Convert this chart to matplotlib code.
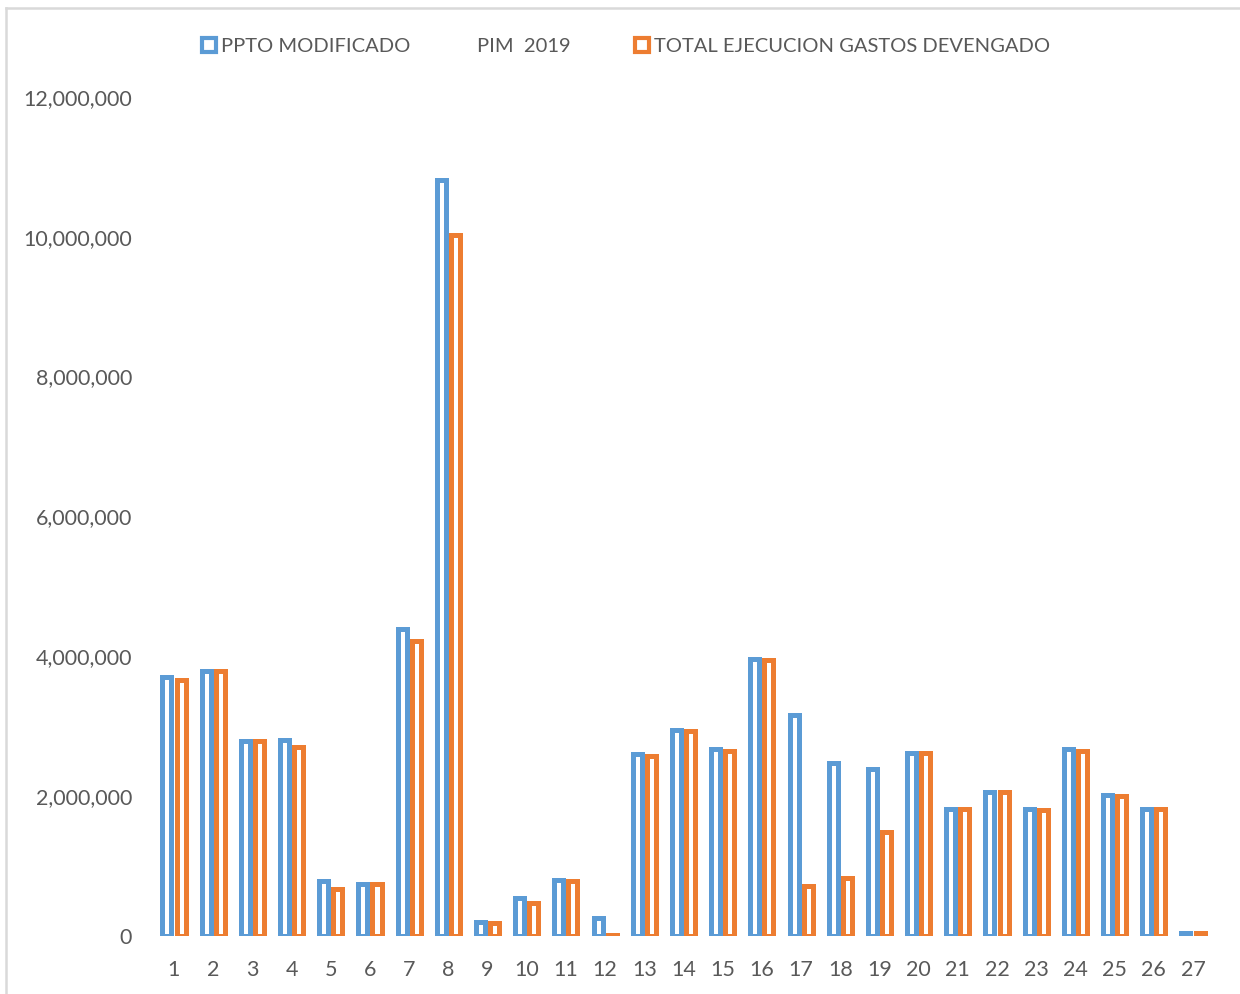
import numpy as np
import matplotlib.pyplot as plt
from matplotlib.patches import Rectangle
from matplotlib.lines import Line2D
from matplotlib.ticker import FuncFormatter

# categorias 1..27
categorias = [str(i) for i in range(1, 28)]

# PPTO MODIFICADO (PIM 2019)
pim = [3700000, 3790000, 2790000, 2800000, 785000, 740000, 4390000, 10810000,
       200000, 540000, 800000, 260000, 2600000, 2950000, 2670000, 3960000,
       3160000, 2470000, 2390000, 2620000, 1820000, 2060000, 1820000, 2670000,
       2020000, 1820000, 40000]

# TOTAL EJECUCION GASTOS DEVENGADO
devengado = [3660000, 3790000, 2790000, 2700000, 670000, 740000, 4220000, 10030000,
             180000, 470000, 785000, 20000, 2570000, 2930000, 2650000, 3950000,
             710000, 830000, 1490000, 2620000, 1820000, 2060000, 1800000, 2650000,
             2000000, 1820000, 40000]

azul = "#5B9BD5"
naranja = "#ED7D31"
gris = "#595959"

plt.rcParams['font.family'] = ['Lato', 'DejaVu Sans']

fig = plt.figure(figsize=(12.4, 9.94), dpi=100)
ax = fig.add_axes([0.1245, 0.0584, 0.8534, 0.8441])

x = np.arange(1, len(categorias) + 1)
ancho = 0.23
desp = 0.18
ax.bar(x - desp, pim, width=ancho, facecolor="white", edgecolor=azul, linewidth=3.6)
ax.bar(x + desp, devengado, width=ancho, facecolor="white", edgecolor=naranja, linewidth=3.6)

ax.set_xlim(0.5, 27.5)
ax.set_ylim(0, 12000000)
ax.set_xticks(x)
ax.set_xticklabels(categorias)
ax.set_yticks(np.arange(0, 12000001, 2000000))
ax.yaxis.set_major_formatter(FuncFormatter(lambda v, p: f"{int(v):,}"))
ax.tick_params(axis="both", length=0, labelsize=15.5, labelcolor=gris)
ax.tick_params(axis="y", pad=16)
ax.tick_params(axis="x", pad=17)
for s in ax.spines.values():
    s.set_visible(False)

h1 = Rectangle((0, 0), 1, 1, facecolor="white", edgecolor=azul, linewidth=3)
h2 = Rectangle((0, 0), 1, 1, facecolor="white", edgecolor=naranja, linewidth=3)
fig.legend([h1, h2],
           ["PPTO MODIFICADO             PIM  2019", "TOTAL EJECUCION GASTOS DEVENGADO"],
           loc="center", bbox_to_anchor=(0.505, 0.953), ncol=2, frameon=False,
           fontsize=14.5, labelcolor=gris, handlelength=0.7, handleheight=0.7,
           handletextpad=0.25, columnspacing=3.2)

# marco gris del grafico
fig.add_artist(Line2D([6 / 1240, 6 / 1240], [0, 1 - 8 / 994], color="#D9D9D9", linewidth=1.8))
fig.add_artist(Line2D([6 / 1240, 1], [1 - 8 / 994, 1 - 8 / 994], color="#D9D9D9", linewidth=1.8))

fig.savefig("out.png", dpi=100, facecolor="white")
